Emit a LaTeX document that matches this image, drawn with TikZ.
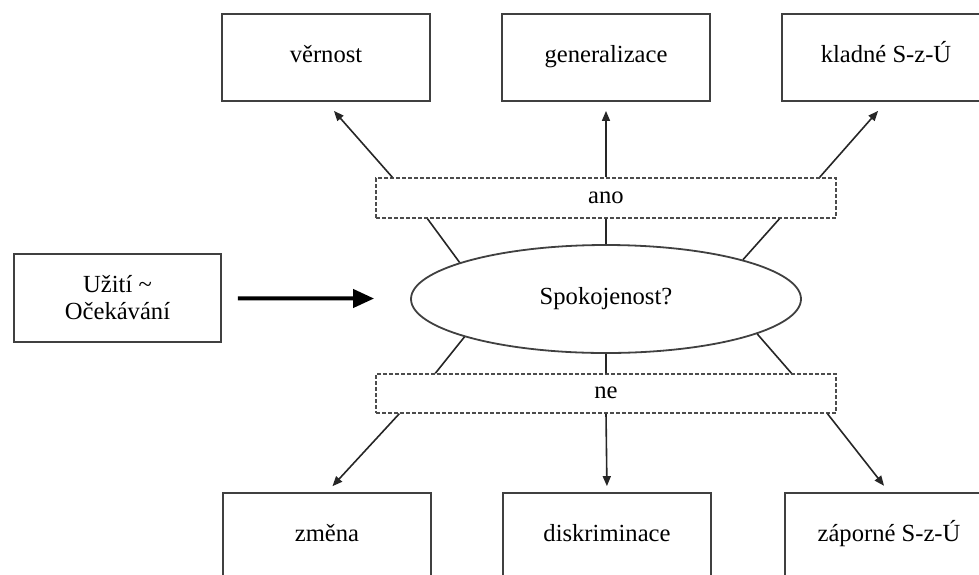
\documentclass[tikz,border=0pt]{standalone}
\usepackage{fontspec}
\setmainfont{Liberation Serif}
\usetikzlibrary{shapes.geometric,arrows.meta,calc}
\tikzset{
  boite/.style={draw=black!75,line width=0.9pt,minimum width=104pt,minimum height=43.5pt,inner sep=0pt,align=center},
  cadre/.style={boite,text height=1.6ex,text depth=0.5ex},
  tiret/.style={draw=black!70,line width=0.7pt,dash pattern=on 2pt off 1pt,minimum width=230pt,minimum height=20pt,inner sep=0pt,text height=1.6ex,text depth=0.5ex},
  fl/.style={draw=black!85,line width=0.8pt,-{Triangle[length=5pt,width=4pt]}},
  trait/.style={draw=black!85,line width=0.8pt},
}
\begin{document}
\begin{tikzpicture}[x=0.5pt,y=-0.5pt,font=\fontsize{12.3}{13.5}\selectfont] % 1 unité = 1 pixel de l'image
\useasboundingbox (0,0) rectangle (979,574);

\node[cadre] (V) at (326,57.5) {věrnost};
\node[cadre] (G) at (606,57.5) {generalizace};
\node[cadre] (K) at (886,57.5) {kladné S-z-Ú};
\node[cadre] (Z) at (327,536.5) {změna};
\node[cadre] (D) at (607,536.5) {diskriminace};
\node[cadre] (ZS) at (889,536.5) {záporné S-z-Ú};
\node[boite,minimum width=103.5pt,minimum height=44pt] (U) at (117.5,298) {Užití \textasciitilde\\Očekávání};
\node[draw=black!75,line width=0.9pt,ellipse,minimum width=195pt,minimum height=54pt,inner sep=0pt] (S) at (606,299) {Spokojenost?};
\node[tiret] (A) at (606,198) {ano};
\node[tiret,minimum height=19.5pt] (N) at (606,393.5) {ne};

\draw[trait] (S.166) -- ($(A.south west)!0.113!(A.south east)$) (S.north) -- (A.south) (S.16) -- ($(A.south west)!0.876!(A.south east)$);
\draw[trait] (S.195) -- ($(N.north west)!0.13!(N.north east)$) (S.south) -- (N.north) (S.347) -- ($(N.north west)!0.902!(N.north east)$);

\draw[fl,shorten >=6pt] ($(A.north west)!0.037!(A.north east)$) -- (V.south);
\draw[fl,shorten >=4.5pt] (A.north) -- (G.south);
\draw[fl,shorten >=6pt] ($(A.north west)!0.963!(A.north east)$) -- (K.south);
\draw[fl,shorten >=4pt] ($(N.south west)!0.052!(N.south east)$) -- (Z.north);
\draw[fl,shorten >=3pt] (N.south) -- (D.north);
\draw[fl,shorten >=4pt] ($(N.south west)!0.98!(N.south east)$) -- (ZS.north);

\draw[line width=2pt,-{Triangle[length=10.5pt,width=9pt]},shorten <=8pt,shorten >=18pt] (U) -- (S);
\end{tikzpicture}
\end{document}
